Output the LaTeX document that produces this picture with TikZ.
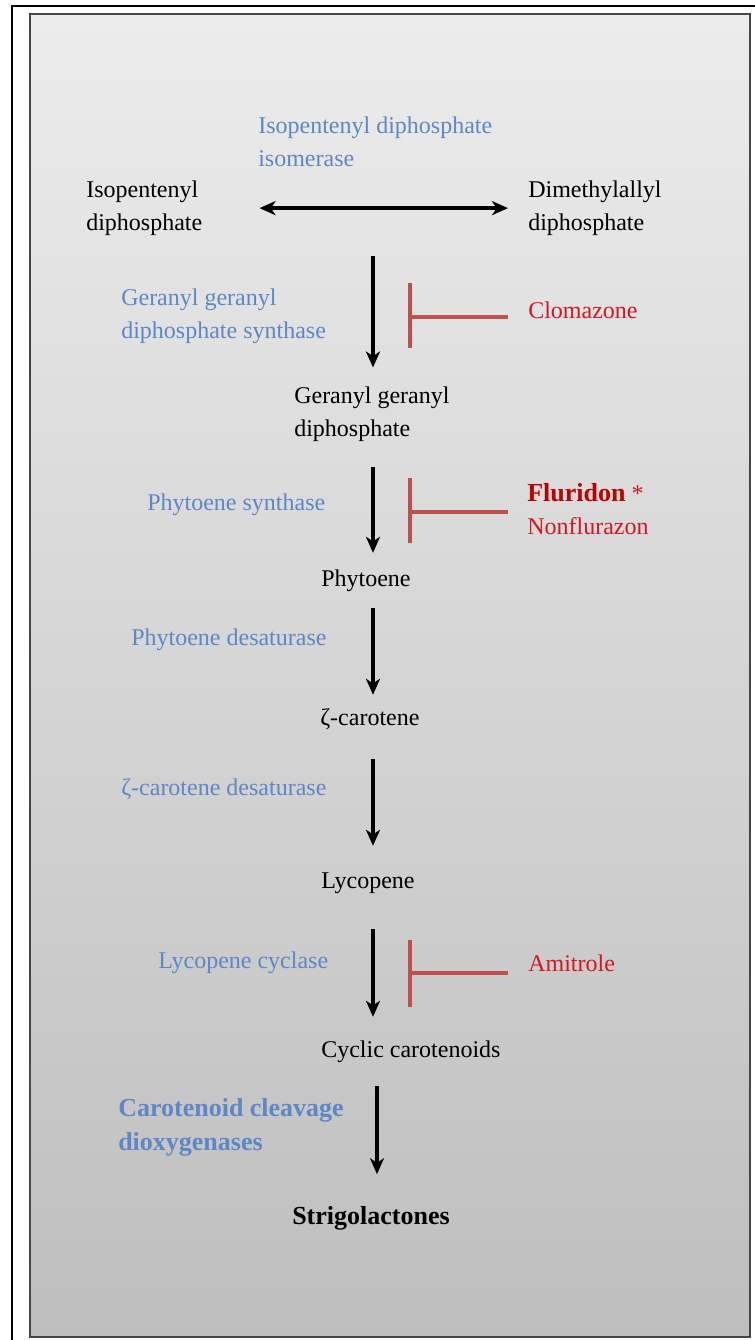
\documentclass[tikz,border=0pt]{standalone}
\usepackage{fontspec}
\setmainfont{Liberation Serif}
\usetikzlibrary{arrows.meta,calc}
\definecolor{enzblue}{RGB}{95,135,198}
\definecolor{drugred}{RGB}{214,22,32}
\definecolor{darkred}{RGB}{190,0,0}
\definecolor{barred}{RGB}{192,80,77}
\definecolor{bgtop}{RGB}{236,236,236}
\definecolor{bgbot}{RGB}{190,190,190}
\definecolor{framegray}{RGB}{70,70,70}

\begin{document}
\begin{tikzpicture}[x=0.75pt,y=-0.75pt,>={Stealth[length=12pt,width=10.5pt,inset=3.5pt]},
  txt/.style={inner sep=0pt,anchor=base west,align=left,font=\fontsize{18}{24.75}\selectfont},
  btxt/.style={txt,font=\fontsize{19.5}{25.5}\selectfont\bfseries},
  onel/.style={text height=0.7em,text depth=0.22em},
  enz/.style={txt,text=enzblue},
  drug/.style={txt,text=drugred},
  flow/.style={->,line width=2.6pt},
  inhib/.style={barred,line width=2.6pt}]
  \useasboundingbox (0,0) rectangle (755,1340);
  \clip (0,0) rectangle (755,1340);
  % frame and shaded panel
  \draw[line width=2.2pt] (12,6) rectangle (780,1360);
  \shadedraw[top color=bgtop,bottom color=bgbot,draw=framegray,line width=1.5pt] (30,14) rectangle (750,1337);

  \node[enz] (idi) at (258,166.4) {Isopentenyl diphosphate\\isomerase};
  \node[txt] (ipp) at (86,230.4) {Isopentenyl\\diphosphate};
  \node[txt] (dma) at (528,230.4) {Dimethylallyl\\diphosphate};
  \node[enz] (ggs) at (121,338.4) {Geranyl geranyl\\diphosphate synthase};
  \node[drug] (clo) at (528,318.4) {Clomazone};
  \node[txt] (ggpp) at (294,436.4) {Geranyl geranyl\\diphosphate};
  \node[enz] (psy) at (147,510.4) {Phytoene synthase};
  \node[drug] (flu) at (527,534) {{\fontsize{19.5}{20}\selectfont\bfseries\color{darkred}Fluridon} *\\Nonflurazon};
  \node[txt,onel] (phy) at (321,586.4) {Phytoene};
  \node[enz] (pds) at (131,645.4) {Phytoene desaturase};
  \node[txt,onel] (zc) at (320,725.4) {ζ-carotene};
  \node[enz] (zds) at (121,795.4) {ζ-carotene desaturase};
  \node[txt,onel] (lyc) at (321,888.4) {Lycopene};
  \node[enz] (lcy) at (158,968.4) {Lycopene cyclase};
  \node[drug] (ami) at (528,971.4) {Amitrole};
  \node[txt,onel] (cyc) at (321,1057.4) {Cyclic carotenoids};
  \node[btxt,text=enzblue] (ccd) at (118,1150.8) {Carotenoid cleavage\\dioxygenases};
  \node[btxt,onel] (sl) at (292,1224.8) {Strigolactones};

  % reactions
  \coordinate (col) at (373,0);
  \coordinate (col2) at (377,0);
  \draw[<->,line width=2.6pt,shorten <=42.75pt,shorten >=15pt] (ipp.east) -- (dma.west);
  \draw[flow,shorten <=15.5pt,shorten >=14.25pt] (col |- ipp.south) -- (col |- ggpp.north);
  \draw[flow,shorten <=18.75pt,shorten >=18pt] (col |- ggpp.south) -- (col |- phy.north);
  \draw[flow,shorten <=13.9pt,shorten >=15.75pt] (col |- phy.south) -- (col |- zc.north);
  \draw[flow,shorten <=22.9pt,shorten >=24.75pt] (col |- zc.south) -- (col |- lyc.north);
  \draw[flow,shorten <=28.1pt,shorten >=23.25pt] (col |- lyc.south) -- (col |- cyc.north);
  \draw[flow,shorten <=19.1pt,shorten >=30.75pt] (col2 |- cyc.south) -- (col2 |- sl.north);

  % inhibitors
  \coordinate (clobar) at (410,317);
  \coordinate (flubar) at (410,512);
  \coordinate (amibar) at (410,973);
  \draw[inhib] (clo.west |- clobar) ++(-20,0) -- (clobar) ++(0,-34) -- ++(0,65);
  \draw[inhib] (flu.west |- flubar) ++(-19,0) -- (flubar) ++(0,-34) -- ++(0,65);
  \draw[inhib] (ami.west |- amibar) ++(-20,0) -- (amibar) ++(0,-33) -- ++(0,67);
\end{tikzpicture}
\end{document}
